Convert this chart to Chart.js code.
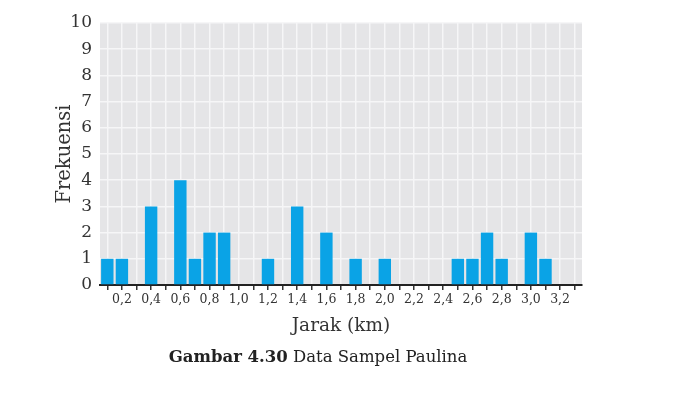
<!DOCTYPE html>
<html>
<head>
<meta charset="utf-8">
<script src="https://cdn.jsdelivr.net/npm/chart.js@4"></script>
<style>
  html, body { margin: 0; padding: 0; background: #fff; }
  #wrap { position: relative; width: 700px; height: 393px; }
  #caption { position: absolute; left: 0; width: 636px; top: 346px; text-align: center;
    font-family: "DejaVu Serif", serif; font-size: 16.5px; color: #222; line-height: 22px; }
  #caption b { font-weight: bold; }
</style>
</head>
<body>
<div id="wrap">
  <canvas id="c" width="700" height="393"></canvas>
  <div id="caption"><b>Gambar 4.30</b> Data Sampel Paulina</div>
</div>
<script>
const categories = ['0,1','0,2','0,3','0,4','0,5','0,6','0,7','0,8','0,9','1,0','1,1','1,2','1,3','1,4','1,5','1,6','1,7','1,8','1,9','2,0','2,1','2,2','2,3','2,4','2,5','2,6','2,7','2,8','2,9','3,0','3,1','3,2','3,3'];
const frekuensi  = [1,1,0,3,0,4,1,2,2,0,0,1,0,3,0,2,0,1,0,1,0,0,0,0,1,1,2,1,0,2,1,0,0];
const yTicks = [0,1,2,3,4,5,6,7,8,9,10];

const bgPlugin = {
  id: 'plotBg',
  beforeDraw(chart) {
    const {ctx, chartArea: a} = chart;
    ctx.save();
    ctx.fillStyle = '#e5e5e7';
    ctx.fillRect(a.left, a.top, a.right - a.left, a.bottom - a.top);
    ctx.restore();
  }
};

new Chart(document.getElementById('c'), {
  type: 'bar',
  data: {
    labels: categories,
    datasets: [{
      data: frekuensi,
      backgroundColor: '#0aa3e6',
      borderWidth: 0,
      barPercentage: 0.85,
      categoryPercentage: 1.0
    }]
  },
  options: {
    responsive: false,
    animation: false,
    layout: { padding: { top: 23, right: 118, bottom: 53, left: 0 } },
    plugins: { legend: { display: false }, tooltip: { enabled: false } },
    scales: {
      x: {
        grid: { offset: false, color: '#f6f6f7', lineWidth: 1.5, tickColor: '#333', tickLength: 5, tickWidth: 1.5 },
        border: { display: true, color: '#222', width: 2 },
        ticks: {
          autoSkip: false, maxRotation: 0, minRotation: 0, padding: 2,
          color: '#333', font: { family: 'DejaVu Serif', size: 12.5 },
          callback: (v, i) => (i % 2 === 1 ? categories[i] : '')
        },
        title: { display: true, text: 'Jarak (km)', color: '#333',
          font: { family: 'DejaVu Serif', size: 18.5 }, padding: { top: 0, bottom: 3 } },
        afterFit: s => { s.height = 55; }
      },
      y: {
        min: 0, max: 10,
        afterBuildTicks: s => { s.ticks = yTicks.map(v => ({ value: v })); },
        grid: { color: '#f6f6f7', lineWidth: 1.5, drawTicks: false },
        border: { display: false },
        ticks: { padding: 8, color: '#333', font: { family: 'DejaVu Serif', size: 17 } },
        title: { display: true, text: 'Frekuensi', color: '#333',
          font: { family: 'DejaVu Serif', size: 19.5 }, padding: { top: 53, bottom: 0 } },
        afterFit: s => { s.width = 100; }
      }
    }
  },
  plugins: [bgPlugin]
});
</script>
</body>
</html>
